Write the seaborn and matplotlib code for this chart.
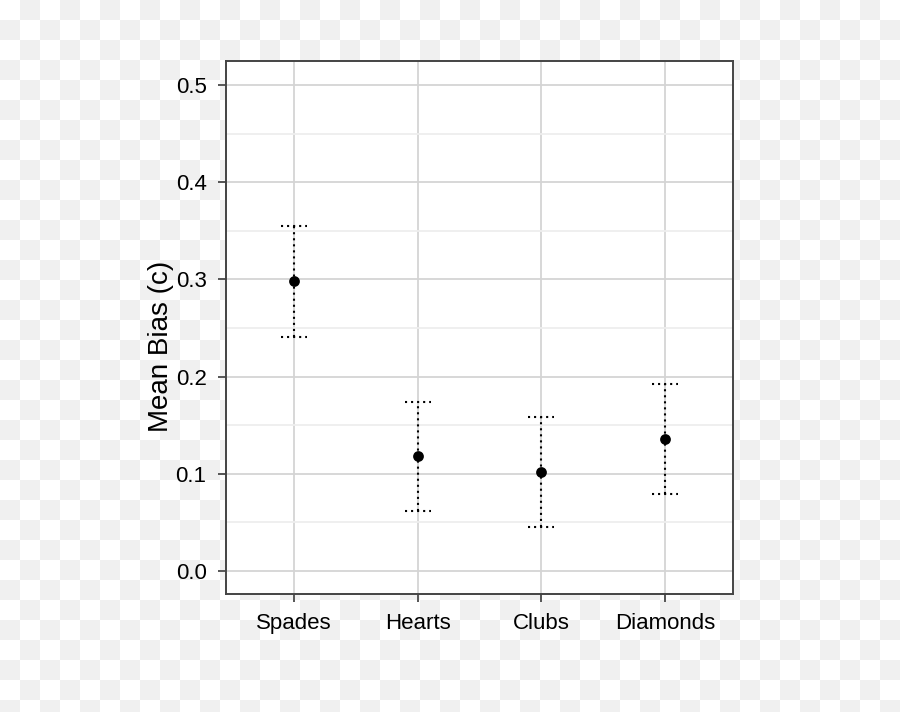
import numpy as np
import pandas as pd
import matplotlib
matplotlib.use("Agg")
import matplotlib.pyplot as plt
import seaborn as sns
from matplotlib.ticker import MultipleLocator
from matplotlib.patches import Rectangle
from matplotlib.collections import PatchCollection

suits = ["Spades", "Hearts", "Clubs", "Diamonds"]
mean_bias = [0.298, 0.118, 0.102, 0.136]
upper = [0.355, 0.174, 0.158, 0.192]
lower = [0.241, 0.061, 0.045, 0.079]
yticks = [0.0, 0.1, 0.2, 0.3, 0.4, 0.5]

df = pd.DataFrame({"suit": suits, "bias": mean_bias, "lo": lower, "hi": upper})

sns.set_theme(style="white")
plt.rcParams['font.family'] = ['Liberation Sans', 'DejaVu Sans']

W, H = 900, 712
fig = plt.figure(figsize=(9, 7.12), dpi=100, facecolor="white")

# transparency-style checkerboard background (20 px squares)
sq = 20
rects = []
for r in range(H // sq + 1):
    for c in range(W // sq + 1):
        if (r + c) % 2 == 1:
            x0 = c * sq / W
            y0 = 1 - (r + 1) * sq / H
            rects.append(Rectangle((x0, y0), sq / W, sq / H))
pc = PatchCollection(rects, facecolor="#f0f0f0", edgecolor="none",
                     transform=fig.transFigure, zorder=-5)
fig.add_artist(pc)

ax = fig.add_axes([226 / W, 1 - 594 / H, (733 - 226) / W, (594 - 61) / H])
ax.set_facecolor("white")

xpos = np.arange(len(suits))
dots = (0, (1, 1.9))
lw = 1.5
ax.vlines(xpos, df["lo"], df["hi"], colors="black", linewidth=lw,
          linestyles=dots, zorder=3)
cap = 0.105
ax.hlines(df["hi"], xpos - cap, xpos + cap, colors="black", linewidth=lw,
          linestyles=dots, zorder=3)
ax.hlines(df["lo"], xpos - cap, xpos + cap, colors="black", linewidth=lw,
          linestyles=dots, zorder=3)
sns.scatterplot(data=df, x="suit", y="bias", color="black", s=60,
                edgecolor="black", linewidth=0, ax=ax, zorder=4)

ax.set_xlim(-0.55, 3.55)
ax.set_ylim(-0.024, 0.525)
ax.set_yticks(yticks)
ax.set_yticklabels([f"{v:.1f}" for v in yticks])
ax.yaxis.set_minor_locator(MultipleLocator(0.05))
ax.set_xticks(xpos)
ax.set_xticklabels(suits)

ax.grid(True, which="major", color="#d4d4d4", linewidth=1.3, zorder=0)
ax.grid(True, which="minor", axis="y", color="#eeeeee", linewidth=1.3, zorder=0)
ax.set_axisbelow(True)

for sp in ax.spines.values():
    sp.set_color("#444444")
    sp.set_linewidth(1.4)
ax.tick_params(axis="both", which="major", direction="out", length=6, width=1.4,
               color="#555555", labelsize=16, labelcolor="black",
               left=True, bottom=True)
ax.tick_params(axis="y", which="major", pad=8)
ax.tick_params(axis="x", which="major", pad=8)
ax.tick_params(axis="y", which="minor", length=0)

ax.set_xlabel("")
ax.set_ylabel("")
fig.text(161 / W, 1 - 346 / H, "Mean Bias (c)", rotation=90, ha="center",
         va="center", fontsize=20, color="black")

fig.savefig("out.png", dpi=100)
